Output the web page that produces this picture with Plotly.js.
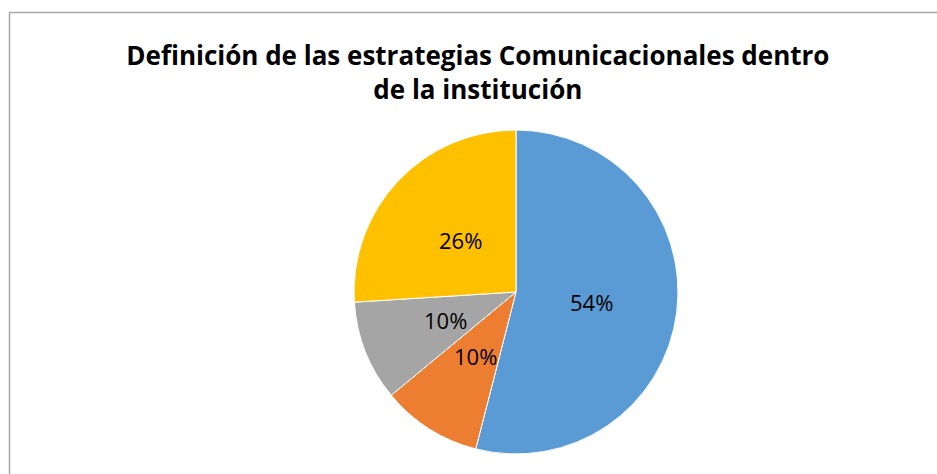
<!DOCTYPE html>
<html>
<head>
<meta charset="utf-8">
<script src="https://cdn.plot.ly/plotly-3.0.1.min.js"></script>
<style>
  html, body { margin: 0; padding: 0; background: #fff; }
  #chart { width: 937px; height: 474px; }
</style>
</head>
<body>
<div id="chart"></div>
<script>
var categories = ['Categoría 1', 'Categoría 2', 'Categoría 3', 'Categoría 4']
var percentages = [54, 10, 10, 26]
var sliceColors = ['#5B9BD5', '#ED7D31', '#A5A5A5', '#FFC000']

var W = 937, H = 474
var pieDomain = { x: [0.3778, 0.7236], y: [0.0422, 0.7257] }

var trace1 = {
  type: 'pie',
  labels: categories,
  values: percentages,
  sort: false,
  direction: 'clockwise',
  rotation: 0,
  marker: {
    colors: sliceColors,
    line: { color: '#ffffff', width: 1 }
  },
  textinfo: 'none',
  hoverinfo: 'label+percent',
  domain: pieDomain
}

// data labels, placed halfway out along each slice's bisector (like Excel)
var total = percentages.reduce(function (a, b) { return a + b }, 0)
var cx = W * (pieDomain.x[0] + pieDomain.x[1]) / 2
var cy = H * (1 - (pieDomain.y[0] + pieDomain.y[1]) / 2)
var R = Math.min(W * (pieDomain.x[1] - pieDomain.x[0]), H * (pieDomain.y[1] - pieDomain.y[0])) / 2
var labelAnnotations = []
var cum = 0
percentages.forEach(function (v) {
  var mid = (cum + v / 2) / total * 2 * Math.PI
  cum += v
  var px = cx + 0.47 * R * Math.sin(mid)
  var py = cy - 0.47 * R * Math.cos(mid)
  labelAnnotations.push({
    xref: 'paper', yref: 'paper',
    x: px / W, y: 1 - py / H,
    xanchor: 'center', yanchor: 'middle',
    text: Math.round(v / total * 100) + '%',
    showarrow: false,
    font: { family: 'Open Sans', size: 22, color: '#000000' }
  })
})

var layout = {
  width: W,
  height: H,
  margin: { l: 0, r: 0, t: 0, b: 0 },
  paper_bgcolor: '#ffffff',
  showlegend: false,
  title: {
    text: 'Definición de las estrategias Comunicacionales dentro<br>de la institución',
    font: { family: 'Open Sans', size: 26, color: '#000000', weight: 700 },
    x: 0.51,
    xanchor: 'center',
    xref: 'paper',
    y: 0.8625,
    yref: 'container',
    yanchor: 'top'
  },
  annotations: labelAnnotations,
  shapes: [
    {
      type: 'rect',
      xref: 'paper',
      yref: 'paper',
      x0: 9.5 / W,
      x1: 1.2,
      y0: -0.2,
      y1: 1 - 12.5 / H,
      line: { color: '#a6a6a6', width: 1.5 }
    }
  ]
}

Plotly.newPlot('chart', [trace1], layout, { displayModeBar: false })
</script>
</body>
</html>
